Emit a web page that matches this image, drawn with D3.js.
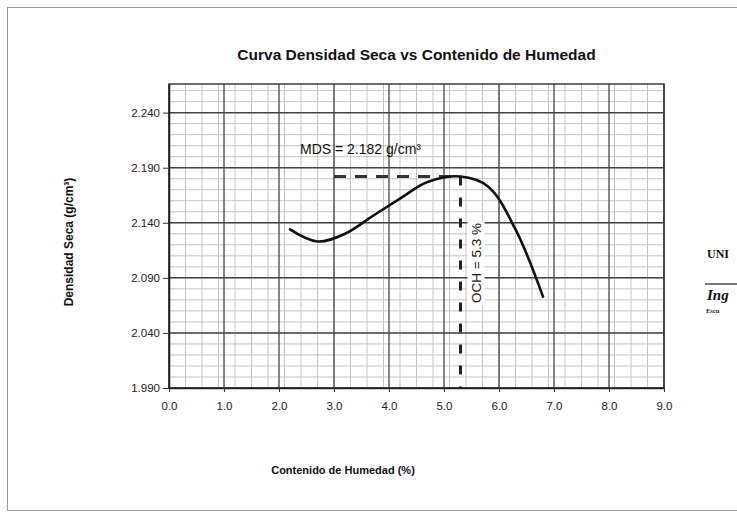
<!DOCTYPE html>
<html>
<head>
<meta charset="utf-8">
<script src="https://cdn.jsdelivr.net/npm/d3@7"></script>
<style>
  html, body { margin: 0; padding: 0; background: #ffffff; }
  svg { display: block; font-family: "Liberation Sans", Arial, sans-serif; }
</style>
</head>
<body>
<svg id="chart" width="737" height="519"></svg>
<script>
// Compaction curve: moisture content (%) vs dry density (g/cm3)
const moisture = [2.2, 2.7, 3.2, 3.7, 4.2, 4.7, 5.3, 5.8, 6.3, 6.8];
const density  = [2.134, 2.123, 2.130, 2.146, 2.162, 2.177, 2.182, 2.173, 2.134, 2.073];

const xTicks = [0, 1, 2, 3, 4, 5, 6, 7, 8, 9];
const yTicks = [1.990, 2.040, 2.090, 2.140, 2.190, 2.240];

// Optimum values
const maxDryDensity = 2.182;
const optimumMoisture = 5.3;

const svg = d3.select("#chart");
const W = 737;
const plot = { left: 169, right: 664, top: 84, bottom: 388 };

const x = d3.scaleLinear().domain([0, 9]).range([plot.left, plot.right]);
const y = d3.scaleLinear().domain([1.990, 2.266]).range([plot.bottom, plot.top]);

// outer frame of the sheet
svg.append("rect")
  .attr("x", 7.5).attr("y", 7.5).attr("width", W + 20).attr("height", 503)
  .attr("fill", "none").attr("stroke", "#9a9a9a").attr("stroke-width", 1);

// title
svg.append("text")
  .attr("x", (plot.left + plot.right) / 2).attr("y", 60)
  .attr("text-anchor", "middle").attr("font-weight", "bold").attr("font-size", 15.5)
  .attr("fill", "#111")
  .text("Curva Densidad Seca  vs Contenido de Humedad");

const g = svg.append("g");

// minor grid
const xMinor = d3.range(0, 9.0001, 0.3);
const yMinor = d3.range(1.990, 2.2661, 0.01);
g.selectAll("line.xminor").data(xMinor).join("line")
  .attr("x1", d => x(d)).attr("x2", d => x(d))
  .attr("y1", plot.top).attr("y2", plot.bottom)
  .attr("stroke", "#c4c4c4").attr("stroke-width", 1);
g.selectAll("line.yminor").data(yMinor).join("line")
  .attr("x1", plot.left).attr("x2", plot.right)
  .attr("y1", d => y(d)).attr("y2", d => y(d))
  .attr("stroke", "#c4c4c4").attr("stroke-width", 1);

// major grid
g.selectAll("line.xmajor").data(xTicks).join("line")
  .attr("x1", d => x(d)).attr("x2", d => x(d))
  .attr("y1", plot.top).attr("y2", plot.bottom)
  .attr("stroke", "#444").attr("stroke-width", 1.3);
g.selectAll("line.ymajor").data(yTicks).join("line")
  .attr("x1", plot.left).attr("x2", plot.right)
  .attr("y1", d => y(d)).attr("y2", d => y(d))
  .attr("stroke", "#444").attr("stroke-width", 1.5);

// plot border
g.append("rect")
  .attr("x", plot.left).attr("y", plot.top)
  .attr("width", plot.right - plot.left).attr("height", plot.bottom - plot.top)
  .attr("fill", "none").attr("stroke", "#333").attr("stroke-width", 1.4);

// axes
const xAxis = d3.axisBottom(x).tickValues(xTicks).tickFormat(d3.format(".1f"))
  .tickSizeInner(4).tickSizeOuter(0).tickPadding(10);
const yAxis = d3.axisLeft(y).tickValues(yTicks).tickFormat(d3.format(".3f"))
  .tickSizeInner(6).tickSizeOuter(0).tickPadding(3);

const gx = svg.append("g").attr("transform", `translate(0,${plot.bottom})`).call(xAxis);
const gy = svg.append("g").attr("transform", `translate(${plot.left},0)`).call(yAxis);
[gx, gy].forEach(a => {
  a.select(".domain").attr("stroke", "#222").attr("stroke-width", 1.6);
  a.selectAll(".tick line").attr("stroke", "#333");
  a.selectAll(".tick text").attr("font-size", 11.5).attr("fill", "#222")
    .attr("font-family", "Liberation Sans, Arial, sans-serif");
});

// axis titles
svg.append("text")
  .attr("x", 343).attr("y", 474)
  .attr("text-anchor", "middle").attr("font-weight", "bold").attr("font-size", 11)
  .attr("fill", "#111")
  .text("Contenido de Humedad (%)");
svg.append("text")
  .attr("transform", `translate(73,242) rotate(-90)`)
  .attr("text-anchor", "middle").attr("font-weight", "bold").attr("font-size", 12)
  .attr("fill", "#111")
  .text("Densidad Seca  (g/cm³)");

// optimum guide lines
svg.append("line")
  .attr("x1", x(3.0)).attr("x2", x(optimumMoisture))
  .attr("y1", y(maxDryDensity)).attr("y2", y(maxDryDensity))
  .attr("stroke", "#333").attr("stroke-width", 3).attr("stroke-dasharray", "12,9");
svg.append("line")
  .attr("x1", x(optimumMoisture)).attr("x2", x(optimumMoisture))
  .attr("y1", y(maxDryDensity)).attr("y2", plot.bottom)
  .attr("stroke", "#222").attr("stroke-width", 3).attr("stroke-dasharray", "9,12");

// curve
const pts = moisture.map((m, i) => [m, density[i]]);
svg.append("path")
  .attr("d", d3.line().x(d => x(d[0])).y(d => y(d[1])).curve(d3.curveCatmullRom.alpha(0.5))(pts))
  .attr("fill", "none").attr("stroke", "#111").attr("stroke-width", 2.6)
  .attr("stroke-linecap", "round");

// annotations
svg.append("text")
  .attr("x", 300).attr("y", 154)
  .attr("font-size", 14).attr("fill", "#111")
  .text(`MDS = ${maxDryDensity.toFixed(3)} g/cm³`);

const ochG = svg.append("g")
  .attr("transform", `translate(${x(optimumMoisture) + 20},263) rotate(-90)`);
const ochText = ochG.append("text")
  .attr("text-anchor", "middle").attr("y", 0)
  .attr("font-size", 13.5).attr("fill", "#111")
  .text(`OCH = ${optimumMoisture.toFixed(1)} %`);
const bb = ochText.node().getBBox();
ochG.insert("rect", "text")
  .attr("x", bb.x - 2).attr("y", bb.y - 1)
  .attr("width", bb.width + 4).attr("height", bb.height + 2)
  .attr("fill", "#fff");

// fragments of the sheet's side block
svg.append("text").attr("x", 707).attr("y", 258)
  .attr("font-family", "Liberation Serif, serif").attr("font-weight", "bold")
  .attr("font-size", 12).attr("fill", "#111").text("UNI");
svg.append("line").attr("x1", 705).attr("x2", 737).attr("y1", 284).attr("y2", 284)
  .attr("stroke", "#222").attr("stroke-width", 1.2);
svg.append("text").attr("x", 707).attr("y", 300)
  .attr("font-family", "Liberation Serif, serif").attr("font-style", "italic").attr("font-weight", "bold")
  .attr("font-size", 15).attr("fill", "#111").text("Ing");
svg.append("text").attr("x", 706).attr("y", 313)
  .attr("font-family", "Liberation Serif, serif").attr("font-weight", "bold")
  .attr("font-size", 6.5).attr("fill", "#222").text("Escu");
</script>
</body>
</html>
